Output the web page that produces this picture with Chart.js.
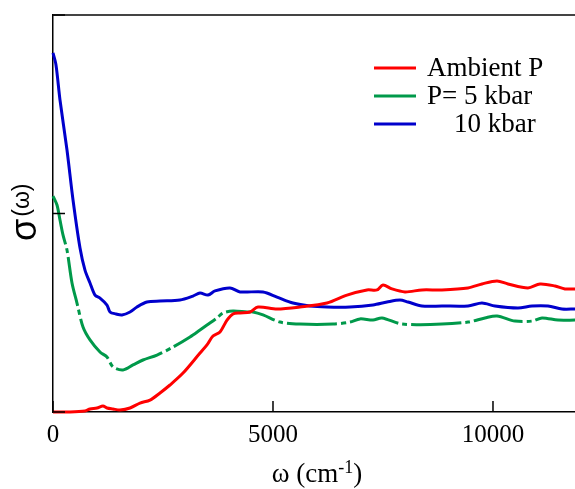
<!DOCTYPE html>
<html lang="en">
<head>
    <meta charset="UTF-8">
    <title>Optical conductivity under pressure</title>
    <script src="https://cdn.jsdelivr.net/npm/chart.js"></script>
    <style>
        html, body { margin: 0; padding: 0; background: #fff; }
        #box { width: 575px; height: 489px; }
    </style>
</head>
<body>
<div id="box"><canvas id="grafico"></canvas></div>
<script>
    // series labels
    const labels = ["Ambient P", "P= 5 kbar", "    10 kbar"];
    const colors = ["#ff0000", "#00994a", "#0000cc"];

    // Ambient P (red)
    const ambX = [0, 386, 727, 841, 1000, 1136, 1227, 1364, 1523, 1750, 1977, 2205, 2432, 2659, 2955, 3341, 3500, 3636, 3795, 3955, 4091, 4250, 4477, 4659, 5091, 5614, 6227, 6682, 7136, 7364, 7500, 7705, 8000, 8386, 8841, 9432, 9750, 10091, 10341, 10795, 11068, 11409, 11636, 11864];
    const ambY = [0, 0, 0.005, 0.015, 0.020, 0.030, 0.020, 0.015, 0.010, 0.020, 0.045, 0.060, 0.096, 0.136, 0.196, 0.297, 0.338, 0.383, 0.403, 0.463, 0.494, 0.499, 0.504, 0.529, 0.519, 0.529, 0.549, 0.589, 0.615, 0.615, 0.640, 0.620, 0.605, 0.615, 0.615, 0.625, 0.645, 0.660, 0.645, 0.625, 0.645, 0.635, 0.620, 0.620];

    // P = 5 kbar (green)
    const p5X = [0, 91, 159, 227, 318, 432, 545, 682, 841, 1068, 1227, 1364, 1591, 1818, 2045, 2364, 2727, 3114, 3341, 3500, 3727, 3864, 4091, 4409, 4545, 4773, 5159, 5614, 6364, 6750, 6977, 7273, 7477, 7932, 8841, 9432, 9818, 10091, 10500, 10886, 11114, 11477, 11864];
    const p5Y = [1.088, 1.043, 0.967, 0.892, 0.816, 0.650, 0.549, 0.428, 0.363, 0.302, 0.277, 0.227, 0.212, 0.237, 0.262, 0.287, 0.327, 0.378, 0.413, 0.438, 0.474, 0.499, 0.509, 0.504, 0.504, 0.489, 0.453, 0.443, 0.443, 0.453, 0.469, 0.463, 0.474, 0.443, 0.443, 0.453, 0.474, 0.484, 0.458, 0.458, 0.474, 0.463, 0.463];

    // P = 10 kbar (blue)
    const p10X = [0, 68, 159, 318, 455, 614, 727, 841, 955, 1068, 1227, 1295, 1432, 1568, 1750, 1909, 2136, 2432, 2886, 3182, 3341, 3523, 3682, 4023, 4250, 4773, 5091, 5455, 5841, 6227, 6750, 7273, 7591, 7886, 8068, 8386, 8841, 9432, 9750, 10045, 10568, 10886, 11250, 11568, 11864];
    const p10Y = [1.809, 1.748, 1.572, 1.320, 1.068, 0.826, 0.715, 0.650, 0.589, 0.574, 0.539, 0.504, 0.494, 0.489, 0.504, 0.529, 0.554, 0.559, 0.564, 0.584, 0.599, 0.589, 0.610, 0.625, 0.605, 0.605, 0.579, 0.549, 0.534, 0.529, 0.529, 0.539, 0.554, 0.564, 0.554, 0.534, 0.534, 0.534, 0.549, 0.534, 0.524, 0.534, 0.534, 0.519, 0.519];

    const xTicks = [0, 5000, 10000];
    const yTicks = [0, 1, 2];
    const xMax = 11864;

    function pontos(xs, ys) {
        return xs.map((x, i) => ({ x: x, y: ys[i] }));
    }

    // top border, inner ticks, axis titles and legend
    const extras = {
        id: "extras",
        afterDraw(chart) {
            const ctx = chart.ctx;
            const a = chart.chartArea;
            const sx = chart.scales.x, sy = chart.scales.y;
            ctx.save();
            // top frame line
            ctx.strokeStyle = "#444";
            ctx.lineWidth = 2;
            ctx.beginPath();
            ctx.moveTo(a.left, a.top);
            ctx.lineTo(a.right, a.top);
            ctx.stroke();
            // inner ticks
            ctx.strokeStyle = "#000";
            ctx.lineWidth = 1.5;
            xTicks.forEach(v => {
                const px = sx.getPixelForValue(v);
                ctx.beginPath();
                ctx.moveTo(px, a.bottom);
                ctx.lineTo(px, a.bottom - 11);
                ctx.stroke();
            });
            yTicks.forEach(v => {
                const py = sy.getPixelForValue(v);
                ctx.beginPath();
                ctx.moveTo(a.left, py);
                ctx.lineTo(a.left + 12, py);
                ctx.stroke();
            });
            // x title: ω (cm-1)
            ctx.fillStyle = "#000";
            ctx.textBaseline = "alphabetic";
            ctx.textAlign = "left";
            const f1 = "27px 'Liberation Serif'", f2 = "18px 'Liberation Serif'";
            ctx.font = f1;
            const w1 = ctx.measureText("ω (cm").width, w3 = ctx.measureText(")").width;
            ctx.font = f2;
            const w2 = ctx.measureText("-1").width;
            let x0 = 317 - (w1 + w2 + w3) / 2;
            const yb = 482;
            ctx.font = f1;
            ctx.fillText("ω (cm", x0, yb);
            ctx.font = f2;
            ctx.fillText("-1", x0 + w1, yb - 9);
            ctx.font = f1;
            ctx.fillText(")", x0 + w1 + w2, yb);
            // y title: σ(ω)
            ctx.save();
            ctx.translate(36, 241);
            ctx.rotate(-Math.PI / 2);
            ctx.font = "36px 'Liberation Sans'";
            ctx.fillText("σ", 0, 0);
            const ws = ctx.measureText("σ").width;
            ctx.font = "23px 'Liberation Sans'";
            ctx.fillText("(ω)", ws + 2, -7);
            ctx.restore();
            // legend
            ctx.font = "27px 'Liberation Serif'";
            ctx.textBaseline = "middle";
            chart.data.datasets.forEach((ds, i) => {
                const y = 68 + i * 28;
                ctx.strokeStyle = ds.borderColor;
                ctx.lineWidth = 3;
                ctx.beginPath();
                ctx.moveTo(374, y);
                ctx.lineTo(416, y);
                ctx.stroke();
                ctx.fillText(ds.label, 427, y + 1);
            });
            ctx.restore();
        }
    };

    const series = [pontos(ambX, ambY), pontos(p5X, p5Y), pontos(p10X, p10Y)];

    new Chart(document.getElementById("grafico"), {
        type: "line",
        data: {
            datasets: series.map((d, i) => ({
                label: labels[i],
                data: d,
                borderColor: colors[i],
                borderWidth: 3,
                borderDash: i === 1 ? [50, 4, 5, 4] : [],
                pointRadius: 0,
                tension: 0.3,
                fill: false,
                clip: false
            }))
        },
        options: {
            responsive: true,
            maintainAspectRatio: false,
            animation: false,
            layout: { padding: { top: 15, right: 0, left: 0, bottom: 0 } },
            plugins: { legend: { display: false }, tooltip: { enabled: false } },
            scales: {
                x: {
                    type: "linear",
                    min: 0,
                    max: xMax,
                    afterFit(scale) { scale.height = 77; },
                    afterBuildTicks(scale) { scale.ticks = xTicks.map(v => ({ value: v })); },
                    grid: { display: false, drawTicks: false },
                    border: { display: true, color: "#000", width: 1.5 },
                    ticks: {
                        padding: 8,
                        color: "#000",
                        maxRotation: 0,
                        font: { family: "Liberation Serif", size: 25 },
                        callback: v => String(v)
                    }
                },
                y: {
                    min: 0,
                    max: 2,
                    afterFit(scale) { scale.width = 53; },
                    grid: { display: false, drawTicks: false },
                    border: { display: true, color: "#000", width: 1.5 },
                    ticks: { display: false }
                }
            }
        },
        plugins: [extras]
    });
</script>
</body>
</html>
